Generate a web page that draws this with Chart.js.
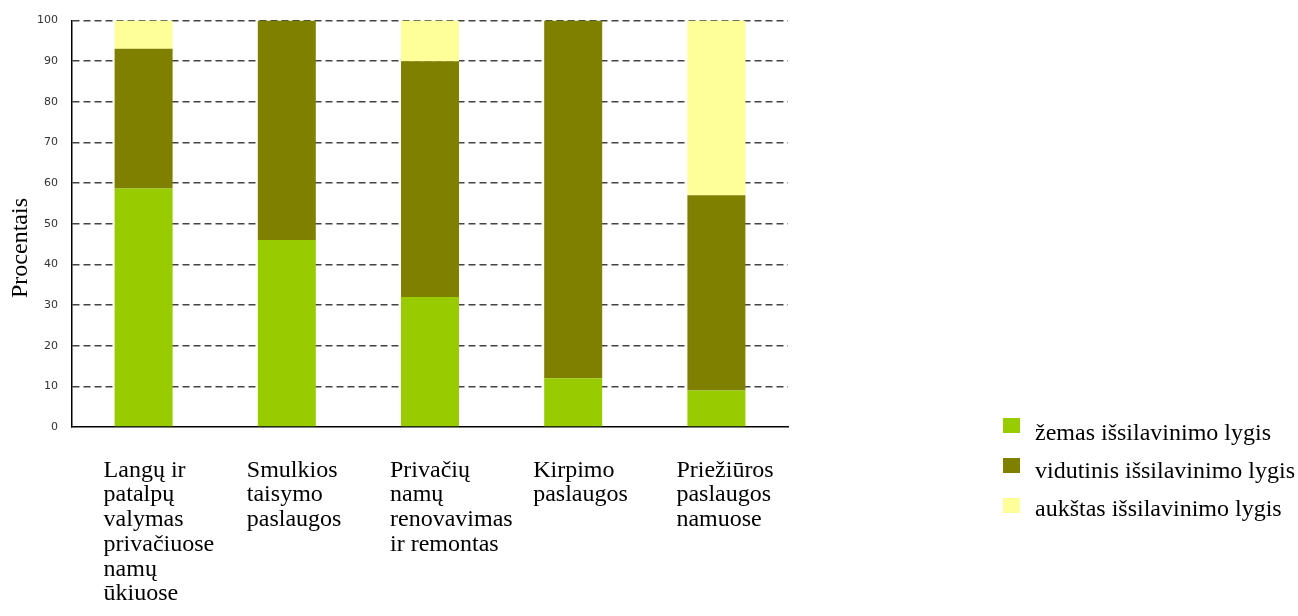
<!DOCTYPE html>
<html lang="lt">
<head>
<meta charset="utf-8">
<title>Išsilavinimo lygis pagal paslaugas</title>
<script src="https://cdn.jsdelivr.net/npm/chart.js@4/dist/chart.umd.min.js"></script>
<style>
  html, body { margin: 0; padding: 0; background: #fff; }
  canvas { display: block; }
</style>
</head>
<body>
<canvas id="grafikas" width="1298" height="616"></canvas>
<script>
// Paslaugų kategorijos (kelių eilučių etiketės)
const kategorijos = [
  ['Langų ir', 'patalpų', 'valymas', 'privačiuose', 'namų', 'ūkiuose'],
  ['Smulkios', 'taisymo', 'paslaugos'],
  ['Privačių', 'namų', 'renovavimas', 'ir remontas'],
  ['Kirpimo', 'paslaugos'],
  ['Priežiūros', 'paslaugos', 'namuose']
];

// Dalys procentais
const zemas = [58.7, 46, 32, 12, 9];
const vidutinis = [34.4, 54, 58, 88, 48];
const aukstas = [6.9, 0, 10, 0, 43];

const serijos = ['žemas išsilavinimo lygis', 'vidutinis išsilavinimo lygis', 'aukštas išsilavinimo lygis'];
const spalvos = ['#99cc00', '#808000', '#ffff99'];

const yTicks = [0, 10, 20, 30, 40, 50, 60, 70, 80, 90, 100];

const serif = '"Liberation Serif", "Times New Roman", serif';

// Ašies pavadinimas ir legenda piešiami atskirai
const papildomiPiesiniai = {
  id: 'papildomiPiesiniai',
  afterDraw(chart) {
    const ctx = chart.ctx;
    ctx.save();
    ctx.fillStyle = '#000';
    ctx.font = '24px ' + serif;

    // Y ašies pavadinimas
    ctx.save();
    ctx.translate(21, 248);
    ctx.rotate(-Math.PI / 2);
    ctx.textAlign = 'center';
    ctx.textBaseline = 'middle';
    ctx.fillText('Procentais', 0, 0);
    ctx.restore();

    // Legenda
    ctx.textAlign = 'left';
    ctx.textBaseline = 'middle';
    chart.data.datasets.forEach((ds, i) => {
      ctx.fillStyle = ds.backgroundColor;
      ctx.fillRect(1003, 418 + i * 40, 17, 15);
      ctx.fillStyle = '#000';
      ctx.fillText(ds.label, 1035, 434 + i * 38);
    });
    ctx.restore();
  }
};

new Chart(document.getElementById('grafikas'), {
  type: 'bar',
  data: {
    labels: kategorijos,
    datasets: [
      { label: serijos[0], data: zemas, backgroundColor: spalvos[0] },
      { label: serijos[1], data: vidutinis, backgroundColor: spalvos[1] },
      { label: serijos[2], data: aukstas, backgroundColor: spalvos[2] }
    ]
  },
  options: {
    responsive: false,
    animation: false,
    layout: { padding: { top: 20, right: 510, bottom: 0, left: 0 } },
    datasets: {
      bar: { barPercentage: 0.405, categoryPercentage: 1, borderWidth: 0 }
    },
    plugins: {
      legend: { display: false },
      tooltip: { enabled: false }
    },
    scales: {
      x: {
        stacked: true,
        afterFit(scale) { scale.height = 189; },
        grid: { display: false, drawTicks: false },
        border: { display: true, color: '#000', width: 1.5, dash: [] },
        ticks: {
          color: '#000',
          align: 'start',
          labelOffset: -40,
          padding: 31,
          maxRotation: 0,
          autoSkip: false,
          font: { family: serif, size: 24, lineHeight: 1.03 }
        }
      },
      y: {
        stacked: true,
        min: 0,
        max: 100,
        afterFit(scale) { scale.width = 72; },
        afterBuildTicks(scale) { scale.ticks = yTicks.map(v => ({ value: v })); },
        grid: {
          // nulinė linija sutampa su X ašimi
          color: ctx => (ctx.tick && ctx.tick.value === 0 ? 'rgba(0,0,0,0)' : '#444'),
          lineWidth: 1.5,
          drawTicks: false
        },
        border: { display: true, color: '#000', width: 1.5, dash: [7, 4] },
        ticks: {
          color: '#333',
          padding: 14,
          font: { family: '"DejaVu Sans", Verdana, sans-serif', size: 11 }
        }
      }
    }
  },
  plugins: [papildomiPiesiniai]
});
</script>
</body>
</html>
